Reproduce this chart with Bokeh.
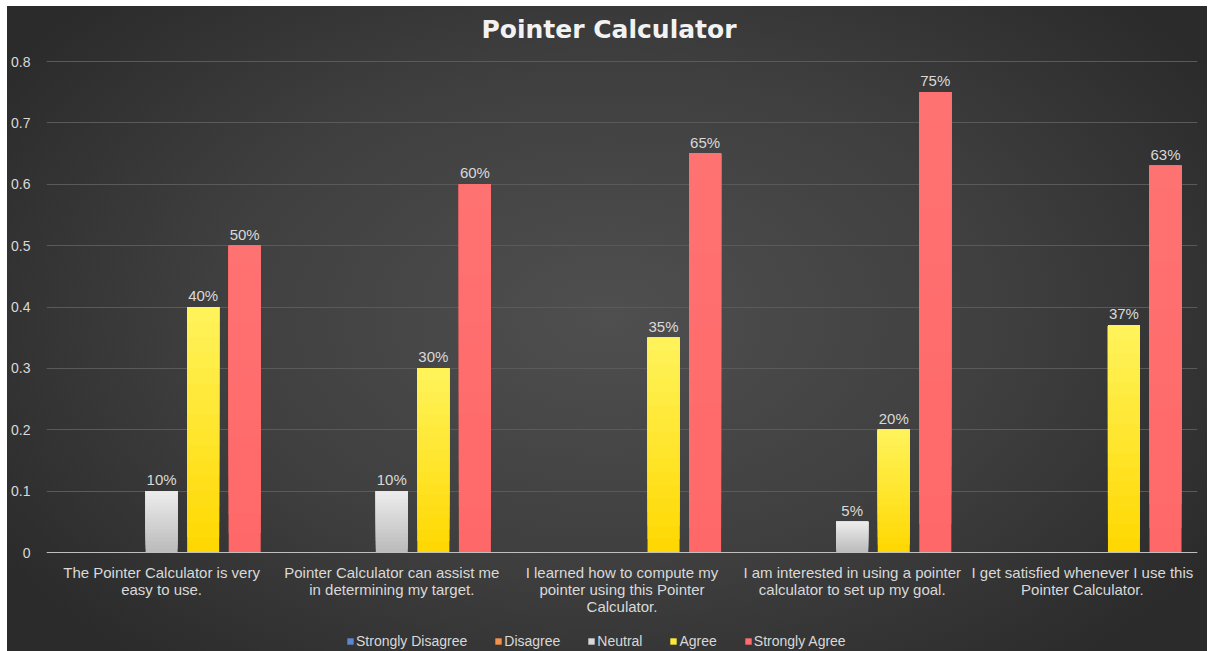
from bokeh.plotting import figure
from bokeh.models import (ColumnDataSource, FactorRange, Legend, LegendItem, LabelSet,
                          FixedTicker, CustomJSTickFormatter, Span)
from bokeh.core.properties import value
from bokeh.transform import dodge
from bokeh.embed import file_html
from bokeh.resources import INLINE

title = "Pointer Calculator"
categories = [
    "The Pointer Calculator is very\neasy to use.",
    "Pointer Calculator can assist me\nin determining my target.",
    "I learned how to compute my\npointer using this Pointer\nCalculator.",
    "I am interested in using a pointer\ncalculator to set up my goal.",
    "I get satisfied whenever I use this\nPointer Calculator.",
]
series_names = ["Strongly Disagree", "Disagree", "Neutral", "Agree", "Strongly Agree"]
strongly_disagree = [0, 0, 0, 0, 0]
disagree = [0, 0, 0, 0, 0]
neutral = [0.10, 0.10, 0, 0.05, 0]
agree = [0.40, 0.30, 0.35, 0.20, 0.37]
strongly_agree = [0.50, 0.60, 0.65, 0.75, 0.63]
y_ticks = [0, 0.1, 0.2, 0.3, 0.4, 0.5, 0.6, 0.7, 0.8]

factors = [c.replace("\n", " ") for c in categories]
series_values = [strongly_disagree, disagree, neutral, agree, strongly_agree]
# (bottom colour, top colour) of each series' vertical gradient
series_colors = [("#4472C4", "#6f95dc"), ("#ED7D31", "#f5a060"), ("#bababa", "#ededed"),
                 ("#ffd700", "#fff45c"), ("#ff6868", "#ff7272")]
offsets = [-0.361, -0.1805, 0.0, 0.1805, 0.361]
BAR_W = 0.139
N_BANDS = 16

TXT = "#d9d9d9"
FONT = "Liberation Sans"

# layout in pixels: plot height and position of the 0.8 and 0 lines from the top
H = 645
TOP_PX, ZERO_PX = 55, 546
SCALE = (ZERO_PX - TOP_PX) / y_ticks[-1]
y_end = y_ticks[-1] + TOP_PX / SCALE
y_start = -(H - ZERO_PX) / SCALE

p = figure(width=1200, height=H, x_range=FactorRange(factors=factors, range_padding=0),
           y_range=(y_start, y_end), output_backend="svg", toolbar_location=None,
           min_border_left=39, min_border_right=10, min_border_top=0, min_border_bottom=0)
p.background_fill_alpha = 0
p.border_fill_alpha = 0
p.outline_line_color = None
p.styles = {"margin-left": "7px", "margin-top": "6px",
            "background-image": "radial-gradient(ellipse 60% 70% at 50% 48%, #4f4f4f 0%, #3f3f3f 55%, #2b2b2b 100%)"}

title_src = ColumnDataSource(dict(cat=[factors[2]], y=[y_end], txt=[title]))
p.add_layout(LabelSet(x="cat", y="y", text="txt", source=title_src, x_offset=-13, y_offset=-23,
                      text_align="center", text_baseline="middle", text_color="#f2f2f2",
                      text_font=value("DejaVu Sans"), text_font_size="25px",
                      text_font_style=value("bold")))


def hexmix(c1, c2, t):
    a = [int(c1[i:i + 2], 16) for i in (1, 3, 5)]
    b = [int(c2[i:i + 2], 16) for i in (1, 3, 5)]
    return "#%02x%02x%02x" % tuple(round(a[j] + (b[j] - a[j]) * t) for j in range(3))


items = []
for name, vals, (c_bot, c_top), off in zip(series_names, series_values, series_colors, offsets):
    for k in range(N_BANDS):
        src = ColumnDataSource(dict(cat=factors,
                                    bottom=[v * k / N_BANDS for v in vals],
                                    top=list(vals)))
        p.vbar(x=dodge("cat", off, range=p.x_range), bottom="bottom", top="top", width=BAR_W,
               source=src, fill_color=hexmix(c_bot, c_top, (k + 0.5) / N_BANDS), line_color=None)
    leg_src = ColumnDataSource(dict(cat=[factors[0]], top=[0]))
    lr = p.vbar(x=dodge("cat", off, range=p.x_range), top="top", width=BAR_W, source=leg_src,
                fill_color=hexmix(c_bot, c_top, 0.6), line_color=None)
    items.append(LegendItem(label=name, renderers=[lr]))

    lab_cats = [c for c, v in zip(factors, vals) if v > 0]
    lab_vals = [v for v in vals if v > 0]
    lab_src = ColumnDataSource(dict(cat=lab_cats, y=lab_vals,
                                    txt=["%d%%" % round(v * 100) for v in lab_vals]))
    p.add_layout(LabelSet(x=dodge("cat", off, range=p.x_range), y="y", text="txt", source=lab_src,
                          text_align="center", text_baseline="bottom", y_offset=3,
                          text_color=TXT, text_font=value(FONT), text_font_size="15px"))

# category labels below the zero line, one label set per text line
lines = [c.split("\n") for c in categories]
n_lines = max(len(l) for l in lines)
for i in range(n_lines):
    cats_i = [f for f, l in zip(factors, lines) if i < len(l)]
    txt_i = [l[i] for l in lines if i < len(l)]
    src = ColumnDataSource(dict(cat=cats_i, y=[0] * len(cats_i), txt=txt_i))
    p.add_layout(LabelSet(x="cat", y="y", text="txt", source=src, text_align="center",
                          text_baseline="middle", y_offset=-20 - 17 * i, text_color=TXT,
                          text_font=value(FONT), text_font_size="15px"))

p.add_layout(Span(location=0, dimension="width", line_color="#bfbfbf", line_width=1))

p.xaxis.visible = False
p.xgrid.grid_line_color = None
p.ygrid.ticker = FixedTicker(ticks=y_ticks)
p.ygrid.grid_line_color = "#5a5a5a"
p.ygrid.grid_line_width = 1
p.yaxis.ticker = FixedTicker(ticks=y_ticks)
p.yaxis.formatter = CustomJSTickFormatter(code="return tick == 0 ? '0' : tick.toFixed(1);")
p.yaxis.axis_line_color = None
p.yaxis.major_tick_line_color = None
p.yaxis.minor_tick_line_color = None
p.yaxis.major_label_text_color = TXT
p.yaxis.major_label_text_font = FONT
p.yaxis.major_label_text_font_size = "14px"
p.yaxis.major_label_standoff = 10

legend = Legend(items=items, orientation="horizontal", location=(300, 2),
                label_text_color=TXT, label_text_font=FONT, label_text_font_size="14px",
                glyph_width=8, glyph_height=8, spacing=27, label_standoff=2, label_height=14,
                background_fill_alpha=0, border_line_color=None, margin=0, padding=2)
p.add_layout(legend, "center")

open("out.html", "w").write(file_html(p, INLINE))
